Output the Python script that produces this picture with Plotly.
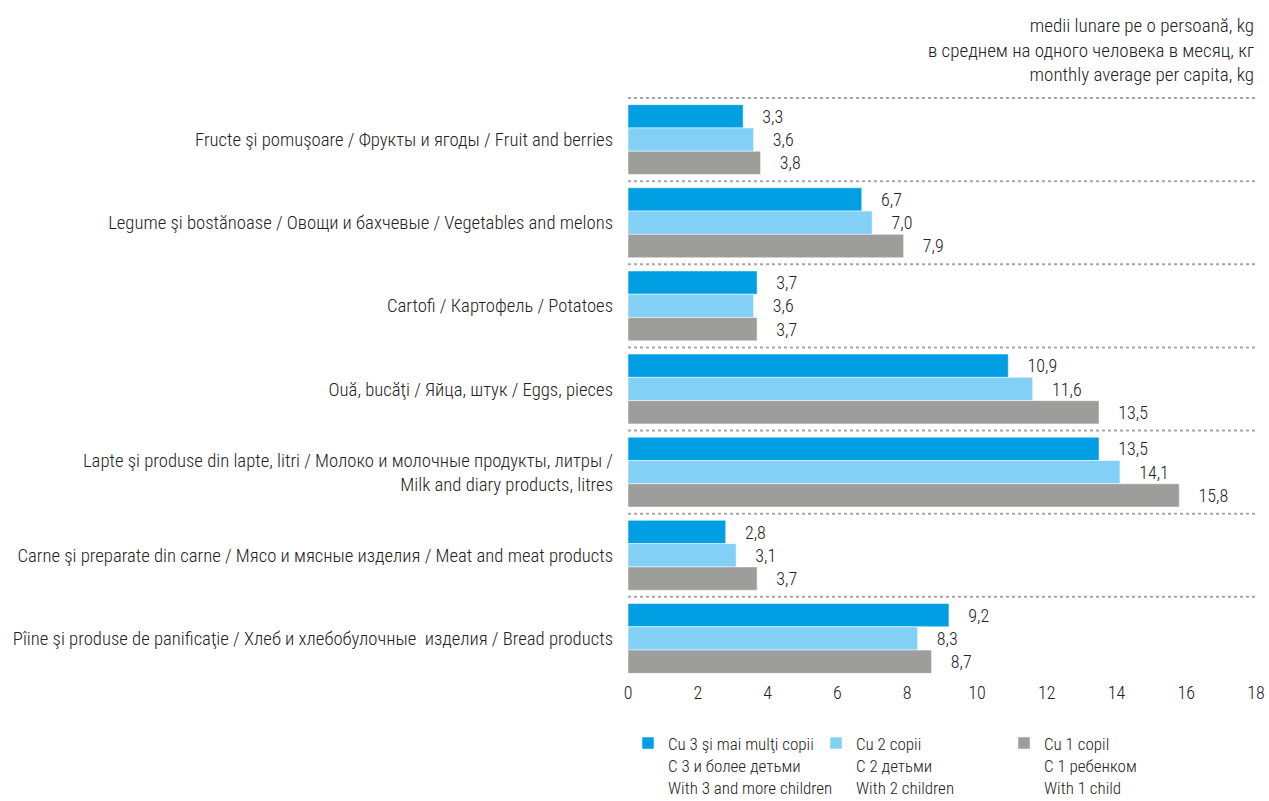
import plotly.graph_objects as go

# Categories (top to bottom)
categories = [
    "Fructe şi pomuşoare / Фрукты и ягоды / Fruit and berries",
    "Legume şi bostănoase / Овощи и бахчевые / Vegetables and melons",
    "Cartofi / Картофель / Potatoes",
    "Ouă, bucăţi / Яйца, штук / Eggs, pieces",
    "Lapte şi produse din lapte, litri / Молоко и молочные продукты, литры /<br>Milk and diary products, litres",
    "Carne şi preparate din carne / Мясо и мясные изделия / Meat and meat products",
    "Pîine şi produse de panificaţie / Хлеб и хлебобулочные  изделия / Bread products",
]

three_plus = [3.3, 6.7, 3.7, 10.9, 13.5, 2.8, 9.2]
two_children = [3.6, 7.0, 3.6, 11.6, 14.1, 3.1, 8.3]
one_child = [3.8, 7.9, 3.7, 13.5, 15.8, 3.7, 8.7]

series_names = [
    "Cu 3 şi mai mulţi copii<br>С 3 и более детьми<br>With 3 and more children",
    "Cu 2 copii<br>С 2 детьми<br>With 2 children",
    "Cu 1 copil<br>С 1 ребенком<br>With 1 child",
]

COLORS = ['#009FE3', '#82D0F5', '#9D9D9C']
FONT = "Roboto Condensed, Liberation Sans Narrow, Roboto, sans-serif"


def fmt(v):
    return "    " + f"{v:.1f}".replace('.', ',')


fig = go.Figure()

# y axis is reversed, so the first trace sits on top of each group
for vals, name, color in zip([three_plus, two_children, one_child], series_names, COLORS):
    fig.add_trace(go.Bar(
        y=categories,
        x=vals,
        name=name,
        orientation='h',
        marker=dict(color=color, line=dict(color='white', width=0.5)),
        text=[fmt(v) for v in vals],
        textposition='outside',
        cliponaxis=False,
        textfont=dict(size=18, color='#222222', family=FONT, weight=300),
    ))

# dotted separators between groups
for i in range(len(categories)):
    fig.add_shape(type='line', xref='paper', yref='y', x0=0, x1=1,
                  y0=i - 0.5, y1=i - 0.5,
                  line=dict(color='#A6A6A6', width=2, dash='dot'))

fig.add_annotation(
    text="medii lunare pe o persoană, kg<br>в среднем на одного человека в месяц, кг<br>monthly average per capita, kg",
    xref='paper', yref='paper', x=1, y=1.0806, xanchor='right', yanchor='middle',
    align='right', showarrow=False,
    font=dict(size=19, color='#222222', family=FONT, weight=300),
)

fig.update_layout(
    width=1269, height=801,
    margin=dict(l=628, r=13, t=97, b=121, autoexpand=False),
    paper_bgcolor='white', plot_bgcolor='white',
    font=dict(family=FONT, color='#222222', size=18, weight=300),
    barmode='group',
    bargap=0.16,
    bargroupgap=0,
    xaxis=dict(range=[0, 18], dtick=2, showgrid=False, zeroline=False,
               showline=False, tickfont=dict(size=18), ticks='',
               automargin=False),
    yaxis=dict(autorange='reversed', showgrid=False, showline=False,
               ticks='', ticklabelstandoff=14, tickfont=dict(size=18.7),
               automargin=False),
    legend=dict(orientation='h', x=0.0, y=-0.078, xanchor='left',
                yanchor='top', valign='top', itemwidth=30,
                entrywidth=143, font=dict(size=17)),
    showlegend=True,
)

# drop the default body margin so the figure sits at the page corner
fig.write_html("out.html", config={'displayModeBar': False},
               post_script="document.body.style.margin='0';")
